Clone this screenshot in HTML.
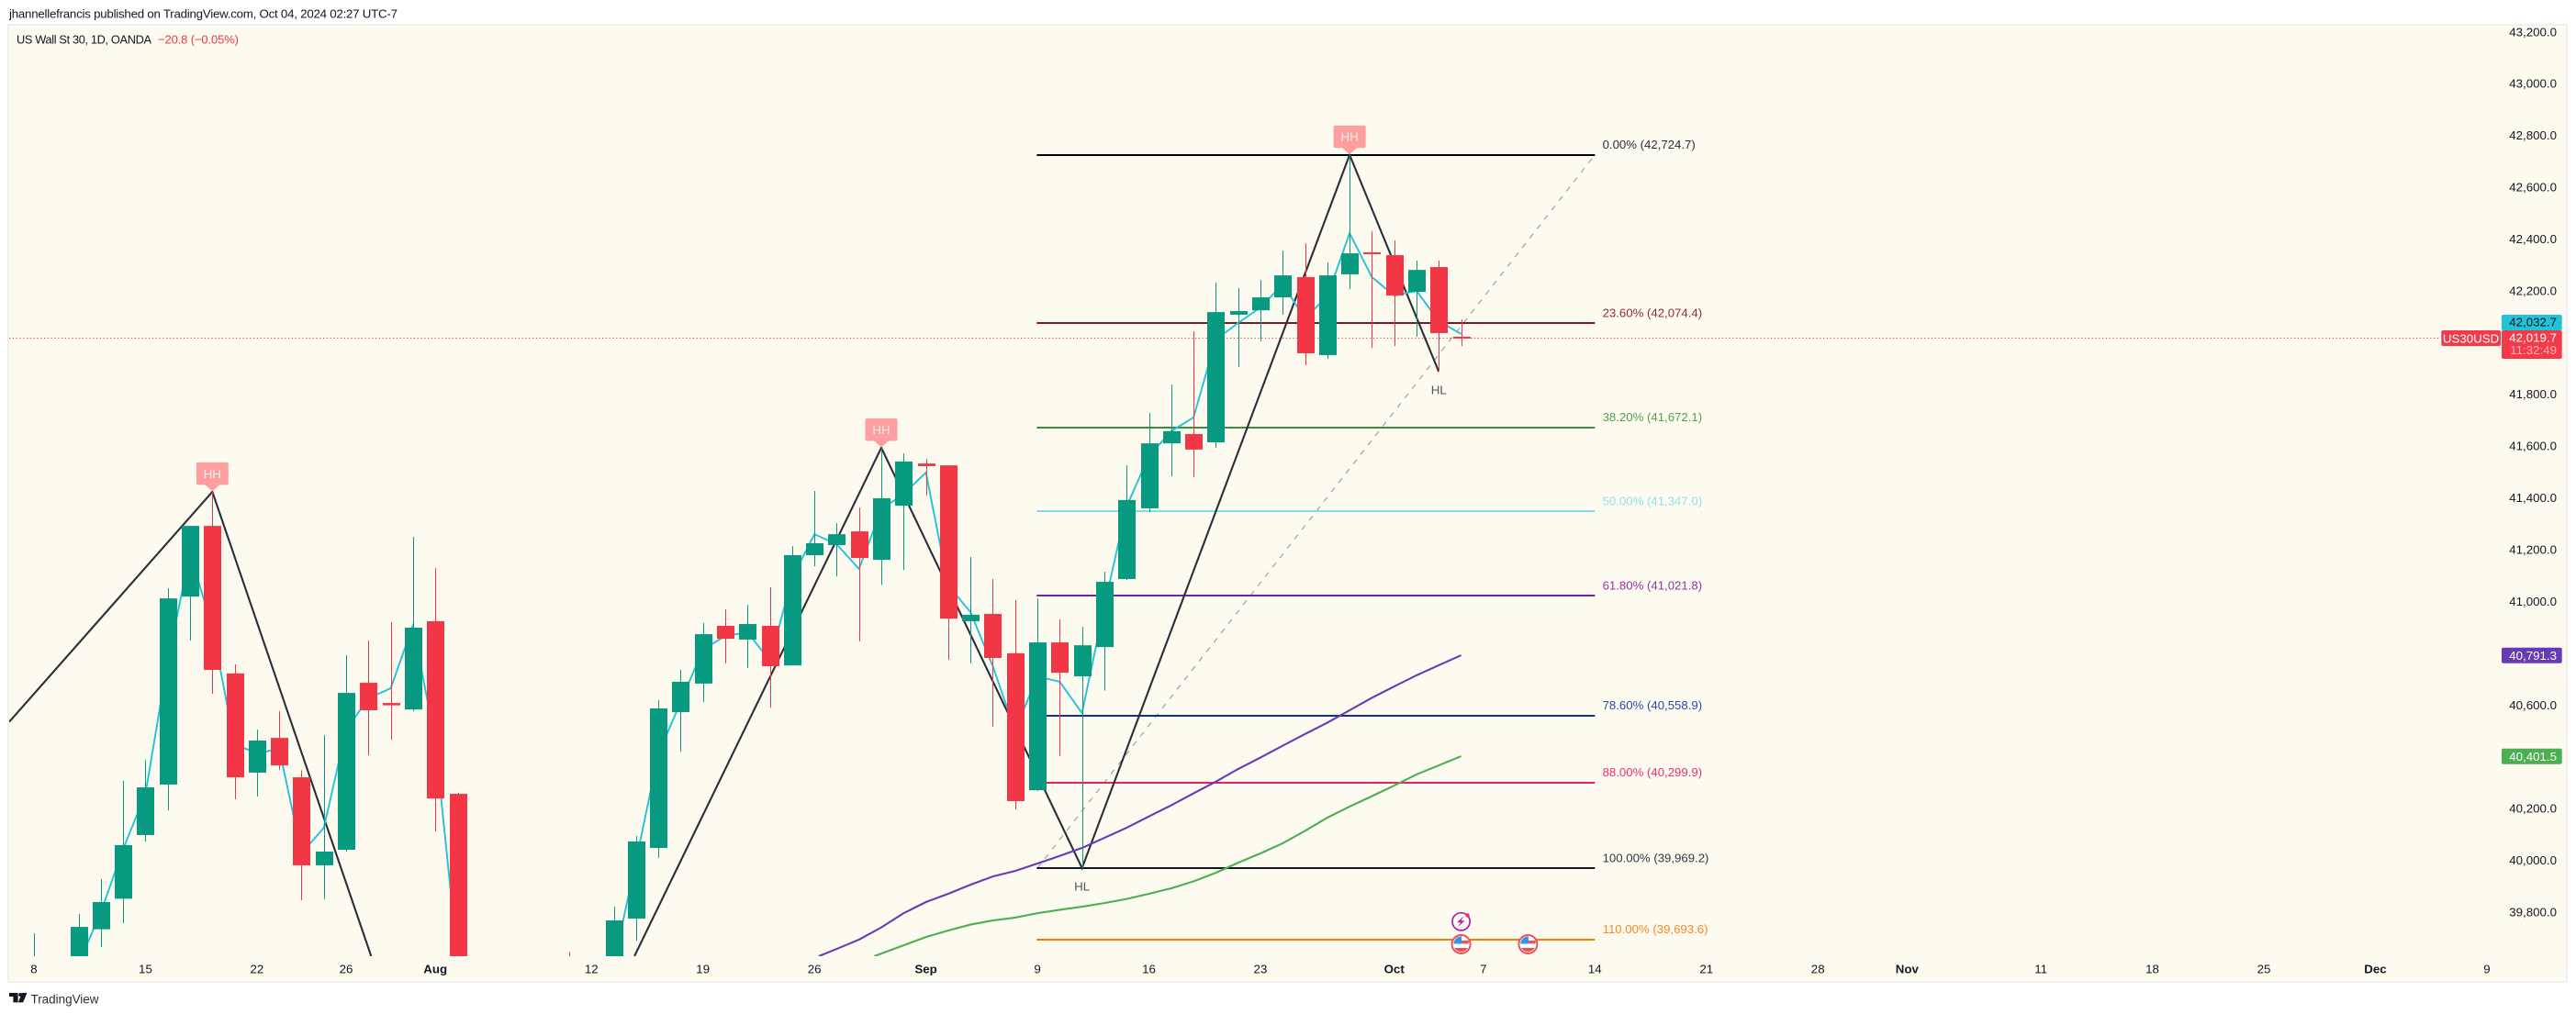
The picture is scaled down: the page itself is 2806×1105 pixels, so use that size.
<!DOCTYPE html>
<html lang="en">
<head>
<meta charset="utf-8">
<title>US Wall St 30, 1D, OANDA</title>
<style>
html,body{margin:0;padding:0;background:#fff;width:2806px;height:1105px;overflow:hidden}
svg{display:block;font-family:"Liberation Sans",sans-serif}
</style>
</head>
<body>
<svg id="chart" xmlns="http://www.w3.org/2000/svg" width="2806" height="1105" viewBox="0 0 2806 1105">
  <defs>
    <clipPath id="pane-clip"><rect x="10" y="28" width="2785" height="1014"/></clipPath>
  </defs>
  <text x="10" y="19.6" font-size="13.3" fill="#131722" textLength="423">jhannellefrancis published on TradingView.com, Oct 04, 2024 02:27 UTC-7</text>
  <rect x="9" y="27" width="2787" height="1043" fill="#fdfaf0" stroke="#eff0f2" stroke-width="2"/>
  <g id="plot" clip-path="url(#pane-clip)"></g>
  <g id="xaxis"></g>
  <g id="yaxis"></g>
  <text x="18" y="47.6" font-size="12.8" fill="#131722" textLength="147">US Wall St 30, 1D, OANDA</text>
  <text x="172" y="47.6" font-size="13" fill="#f23645" textLength="88">−20.8 (−0.05%)</text>
  <g>
    <path d="M10 1082H19.6V1092.4H14.4V1086H10ZM24 1082H29.4L25.2 1092.4H19.8Z" fill="#131722"/>
    <circle cx="22.2" cy="1084" r="2" fill="#131722"/>
    <text x="33.5" y="1093.4" font-size="13.5" fill="#2a2e39" textLength="74">TradingView</text>
  </g>
</svg>
<script>
// ---------- category axis ----------
const barDates = ['Jul 8','Jul 9','Jul 10','Jul 11','Jul 12','Jul 15','Jul 16','Jul 17','Jul 18','Jul 19','Jul 22','Jul 23','Jul 24','Jul 25','Jul 26','Jul 29','Jul 30','Jul 31','Aug 1','Aug 2','Aug 5','Aug 6','Aug 7','Aug 8','Aug 9','Aug 12','Aug 13','Aug 14','Aug 15','Aug 16','Aug 19','Aug 20','Aug 21','Aug 22','Aug 23','Aug 26','Aug 27','Aug 28','Aug 29','Aug 30','Sep 2','Sep 3','Sep 4','Sep 5','Sep 6','Sep 9','Sep 10','Sep 11','Sep 12','Sep 13','Sep 16','Sep 17','Sep 18','Sep 19','Sep 20','Sep 23','Sep 24','Sep 25','Sep 26','Sep 27','Sep 30','Oct 1','Oct 2','Oct 3','Oct 4'];

// ---------- candle series ----------
const opens = [39450,39560,39600,39733,39851,40097,40292,41018,41291,40721,40338,40472,40320,39980,40040,40685,40607,40582,40923,40256,39400,38900,39050,38800,39600,39300,39560,39774,40047,40572,40682,40905,40852,40905,40752,41178,41217,41270,41160,41369,41532,41525,40923,40951,40799,40270,40841,40710,40823,41086,41359,41610,41646,41614,42107,42124,42174,42252,41951,42263,42348,42337,42195,42291,42022];
const highs = [39717,39620,39792,39927,40306,40387,41050,41291,41423,40756,40504,40575,40347,40483,40792,40848,40919,41249,41128,40260,39450,39200,39300,39400,39646,39610,39820,40093,40618,40735,40916,40969,40986,41054,41213,41426,41302,41362,41593,41571,41550,41525,41171,41086,41004,41011,40930,40901,41114,41525,41727,41837,42043,42231,42210,42241,42355,42383,42309,42724.7,42429,42394,42316,42316,42089];
const lows = [39400,39430,39560,39664,39756,40072,40192,40848,40643,40235,40246,40348,39845,39849,40033,40405,40465,40575,40111,39480,38400,38600,38700,38750,39200,39280,39500,39689,40009,40419,40611,40760,40742,40589,40752,41135,41096,40845,41063,41121,41408,40774,40760,40515,40196,40267,40402,39969.2,40655,41082,41344,41483,41479,41593,41905,42004,42107,41912,41937,42206,41979,41986,42022,41887,41986];
const closes = [39600,39480,39742,39838,40058,40281,41011,41291,40735,40320,40462,40366,39980,40033,40646,40579,40598,40898,40238,39510,38800,38980,38780,39350,39250,39550,39767,40072,40586,40689,40873,40855,40912,40749,41178,41224,41259,41167,41398,41540,41522,40933,40948,40781,40228,40841,40724,40830,41075,41391,41610,41657,41586,42117,42121,42174,42259,41958,42259,42344,42341,42181,42280,42036,42019.7];

// ---------- cyan comparison line ----------
const compareLine = [39300,39400,39600,39799,40043,40256,40770,41185,40898,40448,40412,40430,40026,40125,40504,40625,40664,40908,40455,39618,39246,38900,38800,39300,39350,39420,39600,39997,40409,40611,40813,40866,40880,40770,41089,41259,41220,41125,41355,41415,41497,41061,40958,40749,40501,40710,40689,40568,40979,41366,41561,41657,41710,42011,42075,42135,42224,42093,42178,42422,42252,42181,42199,42082,42032.7];

// ---------- moving averages (first bar, then one value per bar) ----------
const purpleStartBar = 34;
const purpleMA = [39583,39622,39657,39693,39740,39795,39838,39870,39905,39937,39958,39987,40016,40047,40086,40125,40169,40212,40258,40303,40352,40396,40442,40487,40531,40579,40627,40671,40714,40753,40791.3];
const greenStartBar = 37;
const greenMA = [39607,39639,39671,39703,39728,39751,39767,39778,39795,39808,39820,39834,39850,39870,39891,39918,39951,39990,40026,40065,40113,40164,40207,40247,40288,40331,40366,40401.5];

// ---------- zigzag structure ----------
const zigzagBars = [-9,8,20,38,47,59,63];
const zigzagPrices = [39764,41423,38400,41593,39969.2,42724.7,41887];
const higherHighBars = [8,38,59];
const higherHighPrices = [41423,41593,42724.7];
const higherLowBars = [47,63];
const higherLowPrices = [39969.2,41887];

// ---------- fibonacci retracement ----------
const fibStartBar = 45;
const fibEndBar = 70;
const fibPercents = ['0.00','23.60','38.20','50.00','61.80','78.60','88.00','100.00','110.00'];
const fibPrices = [42724.7,42074.4,41672.1,41347.0,41021.8,40558.9,40299.9,39969.2,39693.6];
const fibLineColors = ['#000000','#801922','#388e3c','#80deea','#7b1fa2','#0c3299','#e91e63','#131722','#f57c00'];
const fibTextColors = ['#2a2e39','#8e2f38','#4f9f53','#8fe2ec','#8f35ab','#2a49a8','#ee2f6c','#333742','#f78a25'];

// ---------- axes labels ----------
const priceTicks = [43200,43000,42800,42600,42400,42200,41800,41600,41400,41200,41000,40600,40200,40000,39800];
const timeTickBars = [0,5,10,14,18,25,30,35,40,45,50,55,61,65,70,75,80,84,90,95,100,105,110];
const timeTickLabels = ['8','15','22','26','Aug','12','19','26','Sep','9','16','23','Oct','7','14','21','28','Nov','11','18','25','Dec','9'];
const monthLabels = ['Aug','Sep','Oct','Nov','Dec'];

// ---------- event markers ----------
const earningsEventBars = [64];
const economicEventBars = [64,67];

// ---------- latest values ----------
const lastPrice = 42019.7;
const countdown = '11:32:49';
const symbolTag = 'US30USD';

// ---------- axis functions ----------
function xOf(bar){ return 37 + 24.29 * bar; }
function yOf(price){ return 168.7 + (42724.7 - price) * 0.28209; }
function fmt(price){ return price.toLocaleString('en-US',{minimumFractionDigits:1,maximumFractionDigits:1}); }

const PANE_LEFT = 10, PANE_RIGHT = 2795, PANE_TOP = 28, PANE_BOTTOM = 1042;
const NS = 'http://www.w3.org/2000/svg';
function add(parent, tag, attrs, txt){
  const el = document.createElementNS(NS, tag);
  for (const k in attrs) el.setAttribute(k, attrs[k]);
  if (txt !== undefined) el.textContent = txt;
  parent.appendChild(el);
  return el;
}
// Liang-Barsky clip of one segment to the pane
function clipSegment(x1,y1,x2,y2){
  let t0 = 0, t1 = 1;
  const dx = x2-x1, dy = y2-y1;
  const p = [-dx,dx,-dy,dy];
  const q = [x1-PANE_LEFT,PANE_RIGHT-x1,y1-PANE_TOP,PANE_BOTTOM-y1];
  for (let k=0;k<4;k++){
    if (p[k]===0){ if (q[k]<0) return null; continue; }
    const r = q[k]/p[k];
    if (p[k]<0){ if (r>t1) return null; if (r>t0) t0=r; }
    else { if (r<t0) return null; if (r<t1) t1=r; }
  }
  return [x1+t0*dx,y1+t0*dy,x1+t1*dx,y1+t1*dy];
}
function pathFrom(bars, prices){
  let d = '', lastX = null, lastY = null;
  for (let i=1;i<bars.length;i++){
    const s = clipSegment(xOf(bars[i-1]),yOf(prices[i-1]),xOf(bars[i]),yOf(prices[i]));
    if (!s) { lastX = null; continue; }
    if (lastX===null || Math.abs(lastX-s[0])>0.01 || Math.abs(lastY-s[1])>0.01) d += 'M'+s[0].toFixed(2)+' '+s[1].toFixed(2);
    d += 'L'+s[2].toFixed(2)+' '+s[3].toFixed(2);
    lastX = s[2]; lastY = s[3];
  }
  return d;
}
function range(start, n){ const a=[]; for(let i=0;i<n;i++) a.push(start+i); return a; }

const plot = document.getElementById('plot');
const xaxis = document.getElementById('xaxis');
const yaxis = document.getElementById('yaxis');

// fibonacci trend line
const fibTrend = add(plot,'line',{x1:xOf(fibStartBar),y1:yOf(fibPrices[7]),x2:xOf(fibEndBar),y2:yOf(fibPrices[0]),stroke:'#9598a1','stroke-width':1.1,'stroke-dasharray':'6 7'});



// fibonacci levels
fibPrices.forEach((p,i)=>{
  const yl = Math.round(yOf(p));
  const ln = add(plot,'line',{x1:xOf(fibStartBar)-0.7,x2:xOf(fibEndBar),y1:yl,y2:yl,stroke:fibLineColors[i],'stroke-width':2});
  
  
  const lb = add(plot,'text',{x:xOf(fibEndBar)+8.3,y:yOf(p)-6.7,'font-size':13.2,fill:fibTextColors[i]},fibPercents[i]+'% ('+fmt(p)+')');
  
  
});

// last price dotted line
const priceLine = add(plot,'line',{x1:10,x2:2657,y1:Math.round(yOf(lastPrice))+0.5,y2:Math.round(yOf(lastPrice))+0.5,stroke:'#f23645','stroke-width':1,'stroke-dasharray':'1.2 2.6'});



// zigzag
const zig = add(plot,'path',{d:pathFrom(zigzagBars,zigzagPrices),fill:'none',stroke:'#2a2e39','stroke-width':2.1,'stroke-linejoin':'miter'});



// moving averages
const maP = add(plot,'path',{d:pathFrom(range(purpleStartBar,purpleMA.length),purpleMA),fill:'none',stroke:'#673ab7','stroke-width':2.1});


const maG = add(plot,'path',{d:pathFrom(range(greenStartBar,greenMA.length),greenMA),fill:'none',stroke:'#4caf50','stroke-width':2.1});



// cyan line
const cyan = add(plot,'path',{d:pathFrom(range(0,compareLine.length),compareLine),fill:'none',stroke:'#22c3d8','stroke-width':1.9});



// candles (marks wholly below the pane are skipped, the rest stop at its edge)
barDates.forEach((d,i)=>{
  const top = yOf(highs[i]);
  if (top >= PANE_BOTTOM) return;
  const up = closes[i] >= opens[i];
  const col = up ? '#089981' : '#f23645';
  const cx = Math.round(xOf(i));
  const g = add(plot,'g',{});
  
  
  const bot = Math.min(yOf(lows[i]),PANE_BOTTOM);
  const wick = add(g,'rect',{x:cx,y:top,width:1,height:bot-top,fill:col});
  
  
  const yo = yOf(opens[i]), yc = yOf(closes[i]);
  const bTop = Math.min(yo,yc);
  if (bTop >= PANE_BOTTOM) return;
  const bH = Math.min(Math.max(Math.abs(yo-yc),2),PANE_BOTTOM-bTop);
  const body = add(g,'rect',{x:cx-9,y:bTop,width:19,height:bH,fill:col});
  
  
});

// HH tags
higherHighBars.forEach((b,i)=>{
  const x = xOf(b), y = yOf(higherHighPrices[i]);
  const tag = add(plot,'path',{d:'M'+(x-15.5)+' '+(y-32)+'h31a2 2 0 0 1 2 2v20.5a2 2 0 0 1 -2 2h-7.5L'+x+' '+(y-0.5)+'L'+(x-8)+' '+(y-7.5)+'h-7.5a2 2 0 0 1 -2 -2v-20.5a2 2 0 0 1 2 -2z',fill:'#fe9f9f'});
  
  
  const t = add(plot,'text',{x:x,y:y-15,'font-size':13.3,fill:'#ffeeee','text-anchor':'middle'},'HH');
  
  
});

// HL text
higherLowBars.forEach((b,i)=>{
  const t = add(plot,'text',{x:xOf(b),y:yOf(higherLowPrices[i])+24.7,'font-size':13.3,fill:'#50535e','text-anchor':'middle'},'HL');
  
  
});

// earnings / dividend marker
earningsEventBars.forEach(b=>{
  const cx = xOf(b), cy = 1004.3;
  const g = add(plot,'g',{});
  
  
  const ring = add(g,'circle',{cx:cx,cy:cy,r:9.6,fill:'#fdfaf0',stroke:'#9c27b0','stroke-width':1.7});
  
  
  const bolt = add(g,'path',{d:'M'+(cx+3)+' '+(cy-6)+'L'+(cx-4.5)+' '+(cy+1)+'H'+(cx-0.5)+'L'+(cx-3.5)+' '+(cy+6)+'L'+(cx+4)+' '+(cy-1)+'H'+(cx)+'Z',fill:'#9c27b0'});
  
  
  const dot = add(g,'circle',{cx:cx+7,cy:cy-6.8,r:2.2,fill:'#f23645'});
  
  
});

// economic event markers
economicEventBars.forEach((b,i)=>{
  const cx = xOf(b), cy = 1029;
  const g = add(plot,'g',{});
  
  
  const ring = add(g,'circle',{cx:cx,cy:cy,r:10,fill:'#ffffff',stroke:'#f44a58','stroke-width':1.9});
  
  
  const stripe1 = add(g,'rect',{x:cx,y:cy-4,width:8.2,height:3.4,fill:'#ef5350'});
  
  
  const stripe2 = add(g,'path',{d:'M'+(cx-7.4)+' '+(cy+4)+'H'+(cx+7.4)+'A8.6 8.6 0 0 1 '+(cx-7.4)+' '+(cy+4)+'Z',fill:'#ef5350'});
  
  
  const canton = add(g,'path',{d:'M'+(cx-8.2)+' '+(cy-0.5)+'A8.6 8.6 0 0 1 '+(cx+0.5)+' '+(cy-8.6)+'V'+(cy-0.5)+'Z',fill:'#2f96ea'});
  
  
});

// time axis labels
timeTickLabels.forEach((lab,i)=>{
  const bold = monthLabels.indexOf(lab) >= 0;
  const t = add(xaxis,'text',{x:xOf(timeTickBars[i]),y:1060.7,'font-size':13.3,fill:'#131722','text-anchor':'middle','font-weight':bold?700:400},lab);
  
  
});

// price axis labels
priceTicks.forEach(p=>{
  const t = add(yaxis,'text',{x:2785,y:yOf(p)+4.7,'font-size':13.3,fill:'#131722','text-anchor':'end'},fmt(p));
  
  
});

// price axis value boxes
const cyanBox = add(yaxis,'rect',{x:2725,y:343,width:65.7,height:17,rx:2,fill:'#22c3d8'});


const cyanText = add(yaxis,'text',{x:2785,y:355.4,'font-size':13.3,fill:'#131722','text-anchor':'end'},fmt(compareLine[compareLine.length-1]));



const symBox = add(yaxis,'rect',{x:2659.3,y:360,width:64.7,height:17,rx:2,fill:'#f23a4a'});


const symText = add(yaxis,'text',{x:2691.6,y:373.3,'font-size':13.3,fill:'#ffffff','text-anchor':'middle'},symbolTag);



const lastBox = add(yaxis,'rect',{x:2725,y:360,width:65.7,height:31,rx:2,fill:'#f23a4a'});


const lastText = add(yaxis,'text',{x:2785,y:372.6,'font-size':13.3,fill:'#ffffff','text-anchor':'end'},fmt(lastPrice));


const cdText = add(yaxis,'text',{x:2785,y:386.1,'font-size':13.3,fill:'#ffb3bb','text-anchor':'end'},countdown);



const purpleBox = add(yaxis,'rect',{x:2725,y:yOf(purpleMA[purpleMA.length-1])-8.3,width:65.7,height:17,rx:2,fill:'#673ab7'});


const purpleText = add(yaxis,'text',{x:2785,y:yOf(purpleMA[purpleMA.length-1])+4.7,'font-size':13.3,fill:'#ffffff','text-anchor':'end'},fmt(purpleMA[purpleMA.length-1]));



const greenBox = add(yaxis,'rect',{x:2725,y:yOf(greenMA[greenMA.length-1])-8.3,width:65.7,height:17,rx:2,fill:'#4caf50'});


const greenText = add(yaxis,'text',{x:2785,y:yOf(greenMA[greenMA.length-1])+4.7,'font-size':13.3,fill:'#ffffff','text-anchor':'end'},fmt(greenMA[greenMA.length-1]));


</script>
</body>
</html>
